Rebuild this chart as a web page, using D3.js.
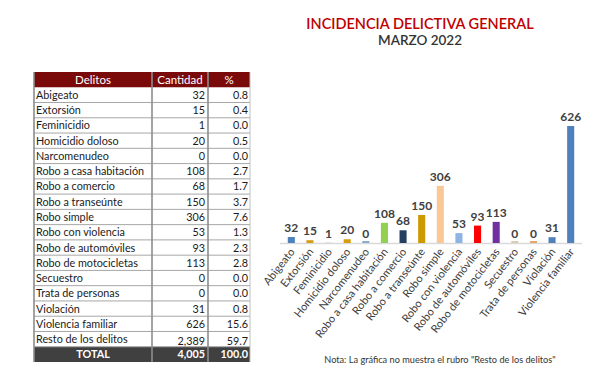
<!DOCTYPE html>
<html lang="es">
<head>
  <meta charset="UTF-8">
  <title>Incidencia delictiva general</title>
  <style>
    body { margin: 0; background: #fff; }
    svg { font-family: Lato, "Open Sans", sans-serif; }
  </style>
</head>
<body>
<div id="chart"></div>
<script src="https://cdn.jsdelivr.net/npm/d3@7"></script>
<script>
  // datos
  const delitos = ["Abigeato", "Extorsión", "Feminicidio", "Homicidio doloso", "Narcomenudeo",
    "Robo a casa habitación", "Robo a comercio", "Robo a transeúnte", "Robo simple",
    "Robo con violencia", "Robo de automóviles", "Robo de motocicletas", "Secuestro",
    "Trata de personas", "Violación", "Violencia familiar"];
  const cantidad = [32, 15, 1, 20, 0, 108, 68, 150, 306, 53, 93, 113, 0, 0, 31, 626];
  const porcentaje = ["0.8", "0.4", "0.0", "0.5", "0.0", "2.7", "1.7", "3.7", "7.6",
    "1.3", "2.3", "2.8", "0.0", "0.0", "0.8", "15.6"];
  const resto = {delito: "Resto de los delitos", cantidad: "2,389", pct: "59.7"};
  const total = {cantidad: "4,005", pct: "100.0"};
  const colores = ["#4f81bd", "#d39e14", "#7f9fc8", "#d89c0c", "#8faacb", "#92d050", "#243f60",
    "#cc9900", "#fac796", "#8eb4e3", "#ff0000", "#7030a0", "#dccbb5", "#e2a66e", "#4f81bd", "#4f81bd"];

  const W = 614, H = 377;
  const svg = d3.select("#chart").append("svg")
    .attr("width", W)
    .attr("height", H);

  // ---- tabla ----
  const tabla = svg.append("g");
  const filas = ["header"].concat(delitos, ["resto", "total"]);
  const yRow = d3.scaleBand().domain(filas).range([72, 362]);
  const colX = [34, 152, 208, 250];

  // encabezado
  tabla.append("rect")
    .attr("x", colX[0]).attr("y", yRow("header"))
    .attr("width", colX[3] - colX[0]).attr("height", yRow.bandwidth())
    .attr("fill", "#7a0a0a");
  const headers = ["Delitos", "Cantidad", "%"];
  headers.forEach((h, i) => {
    tabla.append("text")
      .attr("x", (colX[i] + colX[i + 1]) / 2)
      .attr("y", yRow("header") + yRow.bandwidth() / 2 + 4)
      .attr("text-anchor", "middle")
      .attr("fill", "#fff")
      .attr("font-size", 11.5)
      .text(h);
  });

  // total
  tabla.append("rect")
    .attr("x", colX[0]).attr("y", yRow("total"))
    .attr("width", colX[3] - colX[0]).attr("height", yRow.bandwidth())
    .attr("fill", "#404040");

  const cuerpo = delitos.map((d, i) => ({key: d, nombre: d, cant: String(cantidad[i]), pct: porcentaje[i]}));
  cuerpo.push({key: "resto", nombre: resto.delito, cant: resto.cantidad, pct: resto.pct});

  const row = tabla.selectAll(".fila")
    .data(cuerpo)
    .enter().append("g")
    .attr("class", "fila")
    .attr("transform", d => "translate(0," + yRow(d.key) + ")");

  row.append("line")
    .attr("x1", colX[0]).attr("x2", colX[3])
    .attr("y1", yRow.bandwidth()).attr("y2", yRow.bandwidth())
    .attr("stroke", "#a6a6a6").attr("stroke-width", 1);

  row.append("text")
    .attr("x", colX[0] + 2)
    .attr("y", yRow.bandwidth() / 2 + 4)
    .attr("font-size", 10.8)
    .attr("fill", "#1a1a1a")
    .text(d => d.nombre);

  row.append("text")
    .attr("x", colX[2] - 3)
    .attr("y", d => yRow.bandwidth() / 2 + (d.key === "resto" ? 6 : 4))
    .attr("text-anchor", "end")
    .attr("font-size", 10.8)
    .attr("fill", "#1a1a1a")
    .text(d => d.cant);

  row.append("text")
    .attr("x", colX[3] - 2)
    .attr("y", d => yRow.bandwidth() / 2 + (d.key === "resto" ? 6 : 4))
    .attr("text-anchor", "end")
    .attr("font-size", 10.8)
    .attr("fill", "#1a1a1a")
    .text(d => d.pct);

  // fila total
  const totVals = ["TOTAL", total.cantidad, total.pct];
  totVals.forEach((t, i) => {
    tabla.append("text")
      .attr("x", i === 0 ? (colX[0] + colX[1]) / 2 : colX[i + 1] - (i === 1 ? 3 : 2))
      .attr("y", yRow("total") + yRow.bandwidth() / 2 + 4)
      .attr("text-anchor", i === 0 ? "middle" : "end")
      .attr("fill", "#fff")
      .attr("font-weight", "bold")
      .attr("font-size", 10.8)
      .text(t);
  });

  // lineas verticales
  [colX[0], colX[1], colX[2], colX[3]].forEach((x, i) => {
    tabla.append("line")
      .attr("x1", x).attr("x2", x)
      .attr("y1", yRow("header")).attr("y2", yRow("total") + yRow.bandwidth())
      .attr("stroke", i === 3 ? "#bfbfbf" : "#8c8c8c")
      .attr("stroke-width", i === 3 ? 1 : 1.6);
  });

  // ---- grafica ----
  svg.append("text")
    .attr("x", 420).attr("y", 29)
    .attr("text-anchor", "middle")
    .attr("fill", "#c00000")
    .attr("font-size", 14.5)
    .attr("font-weight", 600)
    .text("INCIDENCIA DELICTIVA GENERAL");
  svg.append("text")
    .attr("x", 420).attr("y", 45)
    .attr("text-anchor", "middle")
    .attr("fill", "#333")
    .attr("font-size", 13.5)
    .attr("font-weight", 600)
    .text("MARZO 2022");

  const base = 243;
  const x = d3.scaleBand().domain(delitos).range([282, 580]).paddingInner(0.62).paddingOuter(0.31);
  const y = d3.scaleLinear().domain([0, 626]).range([base, 126]);

  svg.append("line")
    .attr("x1", 280).attr("x2", 582)
    .attr("y1", base + 0.5).attr("y2", base + 0.5)
    .attr("stroke", "#d9d9d9").attr("stroke-width", 1.5);

  svg.selectAll(".bar")
    .data(delitos)
    .enter().append("rect")
    .attr("class", "bar")
    .attr("x", d => x(d))
    .attr("y", (d, i) => y(cantidad[i]) - (cantidad[i] === 0 ? 2 : 0))
    .attr("width", x.bandwidth())
    .attr("height", (d, i) => base - y(cantidad[i]) + (cantidad[i] === 0 ? 2 : 0))
    .attr("fill", (d, i) => colores[i]);

  svg.selectAll(".val")
    .data(delitos)
    .enter().append("text")
    .attr("class", "val")
    .attr("x", d => x(d) + x.bandwidth() / 2)
    .attr("y", (d, i) => y(cantidad[i]) - 5)
    .attr("text-anchor", "middle")
    .attr("font-size", 12)
    .attr("font-weight", "bold")
    .attr("fill", "#404040")
    .text((d, i) => cantidad[i]);

  svg.selectAll(".lbl")
    .data(delitos)
    .enter().append("text")
    .attr("class", "lbl")
    .attr("transform", d => "translate(" + (x(d) + x.bandwidth() / 2 + 4) + "," + (base + 9) + ") rotate(-52)")
    .attr("text-anchor", "end")
    .attr("font-size", 11)
    .attr("fill", "#404040")
    .text(d => d);

  svg.append("text")
    .attr("x", 440).attr("y", 363)
    .attr("text-anchor", "middle")
    .attr("font-size", 9.2)
    .attr("fill", "#333")
    .text("Nota: La gráfica no muestra el rubro \"Resto de los delitos\"");
</script>
</body>
</html>
